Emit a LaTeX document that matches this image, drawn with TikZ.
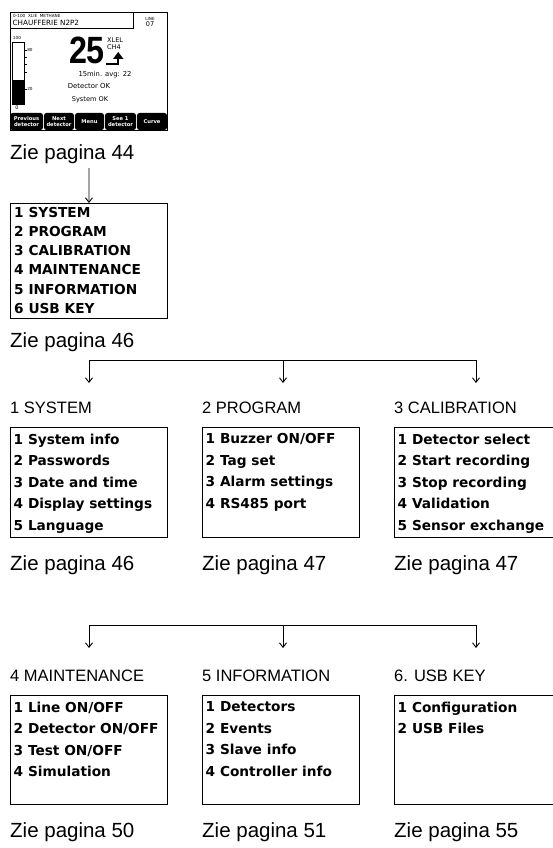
\documentclass[tikz,border=0pt]{standalone}
\usepackage{fontspec}
\setmainfont{Liberation Sans}
\newfontfamily\lcdfont{DejaVu Sans}
\usetikzlibrary{arrows.meta,positioning,calc}

\begin{document}
\begin{tikzpicture}[x=1pt,y=-1pt,
    box/.style={draw,line width=0.9pt,minimum width=157pt,minimum height=110pt,anchor=north west,inner sep=0pt},
    items/.style={anchor=north west,align=left,inner sep=0pt,font=\lcdfont\bfseries\fontsize{13.7}{21.5}\selectfont},
    head/.style={anchor=base west,inner sep=0pt,font=\fontsize{16.5}{18}\selectfont},
    zie/.style={anchor=base west,inner sep=0pt,font=\fontsize{20.5}{22}\selectfont},
    arr/.style={-{Straight Barb[length=4.5pt,width=7pt]},line width=0.9pt},
    arrs/.style={{Straight Barb[length=4.5pt,width=7pt]}-{Straight Barb[length=4.5pt,width=7pt]},line width=0.9pt},
    softkey/.style={fill=black,rounded corners=2.5pt},
    keytxt/.style={text=white,align=center,inner sep=0pt,font=\lcdfont\bfseries\fontsize{5.2}{5.8}\selectfont},
    lcd/.style={inner sep=0pt,font=\lcdfont\fontsize{#1}{#1}\selectfont}
]
\useasboundingbox (0,0) rectangle (552,848);

% detector screen
\draw[line width=0.6pt] (10,12) rectangle (167,130);
\draw[line width=0.6pt] (10,12) rectangle (133,28);
\node[lcd=4.2,anchor=west] (rng) at (13,15.5) {0-100\ \ XLIE\ \ METHANE};
\node[lcd=7.2,anchor=west] (loc) at (12.5,23) {CHAUFFERIE N2P2};
\node[lcd=4.2] (ln) at (150,18.5) {LINE};
\node[lcd=6.5] (lno) at (150,24.5) {07};

% bar gauge
\draw[line width=0.9pt] (12,42) rectangle (24,104);
\fill (12,80) rectangle (24,104);
\foreach \t in {50,57,64,72,89} \draw[line width=0.5pt] (24,\t) -- (27,\t);
\node[lcd=4.2] (gtop) at (17,38) {100};
\node[lcd=4.2] (g80) at (30,50) {80};
\node[lcd=4.2] (g20) at (30,89) {20};
\node[lcd=5] (gzero) at (17,108) {0};

% reading
\node[inner sep=0pt,font=\bfseries\fontsize{38}{38}\selectfont] (val) at (87,50.5) {\scalebox{0.85}[1]{25}};
\node[lcd=6.5,anchor=west] (unit) at (107,40.5) {XLEL};
\node[lcd=6.5,anchor=west] (gas) at (107,47.5) {CH4};
\draw[line width=2.4pt] (106,64) -- (118,64) -- (118,58);
\fill (113,59) -- (123.5,59) -- (118.2,52) -- cycle;
\node[lcd=6.8] (avg) at (105,74.5) {15min. avg: 22};
\node[lcd=6.9] (dok) at (89,86) {Detector OK};
\node[lcd=6.6] (sok) at (90,100) {System OK};

% soft keys
\fill[softkey] (10,113) rectangle (43,130);
\fill[softkey] (44,113) rectangle (74,130);
\fill[softkey] (75,113) rectangle (104,130);
\fill[softkey] (105,113) rectangle (136,130);
\fill[softkey] (137,113) rectangle (167,130);
\node[keytxt] (k1) at (26.5,121.5) {Previous\\detector};
\node[keytxt] (k2) at (59,121.5) {Next\\detector};
\node[keytxt] (k3) at (89.5,121.5) {Menu};
\node[keytxt] (k4) at (120.5,121.5) {See 1\\detector};
\node[keytxt] (k5) at (152,121.5) {Curve};

% main menu
\node[zie] (z0) at (10,159) {Zie pagina 44};
\coordinate (m0) at (89,168);
\node[box,minimum height=115pt] (menu) at (10,203) {};
\node[items,font=\lcdfont\bfseries\fontsize{13.7}{19.2}\selectfont] (mlist) at ($(menu.north west)+(4,4)$)
    {1 SYSTEM\\2 PROGRAM\\3 CALIBRATION\\4 MAINTENANCE\\5 INFORMATION\\6 USB KEY};
\draw[arr] (m0) -- (menu.north);

% first row of sub menus
\node[zie] (z1) at (10,347) {Zie pagina 46};
\coordinate (t1) at (89,360);
\coordinate (t2) at (283,360);
\coordinate (t3) at (476,360);
\coordinate (a1) at (89,383);
\coordinate (a2) at (283,383);
\coordinate (a3) at (476,383);
\draw[arrs] (a1) -- (t1) -- (t3) -- (a3);
\draw[arr] (t2) -- (a2);

\node[head] (h1) at (10,413) {1 SYSTEM};
\node[head] (h2) at (202,413) {2 PROGRAM};
\node[head] (h3) at (394,413) {3 CALIBRATION};
\node[box] (b1) at (10,427) {};
\node[box] (b2) at (202,427) {};
\node[box,minimum width=162pt] (b3) at (394,427) {};
\node[items] (l1) at ($(b1.north west)+(3.5,6.6)$) {1 System info\\2 Passwords\\3 Date and time\\4 Display settings\\5 Language};
\node[items] (l2) at ($(b2.north west)+(3.5,6.6)$) {1 Buzzer ON/OFF\\2 Tag set\\3 Alarm settings\\4 RS485 port};
\node[items] (l3) at ($(b3.north west)+(3.5,6.6)$) {1 Detector select\\2 Start recording\\3 Stop recording\\4 Validation\\5 Sensor exchange};
\node[zie] (z11) at (10,570) {Zie pagina 46};
\node[zie] (z12) at (202,570) {Zie pagina 47};
\node[zie] (z13) at (394,570) {Zie pagina 47};

% second row of sub menus
\coordinate (u1) at (89,625);
\coordinate (u2) at (283,625);
\coordinate (u3) at (476,625);
\coordinate (c1) at (89,648);
\coordinate (c2) at (283,648);
\coordinate (c3) at (476,648);
\draw[arrs] (c1) -- (u1) -- (u3) -- (c3);
\draw[arr] (u2) -- (c2);

\node[head] (h4) at (10,681) {4 MAINTENANCE};
\node[head] (h5) at (202,681) {5 INFORMATION};
\node[head] (h6) at (394,681) {6. USB KEY};
\node[box,minimum height=109pt] (b4) at (10,695) {};
\node[box,minimum height=109pt] (b5) at (202,695) {};
\node[box,minimum height=109pt,minimum width=162pt] (b6) at (394,695) {};
\node[items] (l4) at ($(b4.north west)+(3.5,6.6)$) {1 Line ON/OFF\\2 Detector ON/OFF\\3 Test ON/OFF\\4 Simulation};
\node[items] (l5) at ($(b5.north west)+(3.5,6.6)$) {1 Detectors\\2 Events\\3 Slave info\\4 Controller info};
\node[items] (l6) at ($(b6.north west)+(3.5,6.6)$) {1 Configuration\\2 USB Files};
\node[zie] (z21) at (10,837) {Zie pagina 50};
\node[zie] (z22) at (202,837) {Zie pagina 51};
\node[zie] (z23) at (394,837) {Zie pagina 55};
\end{tikzpicture}
\end{document}
